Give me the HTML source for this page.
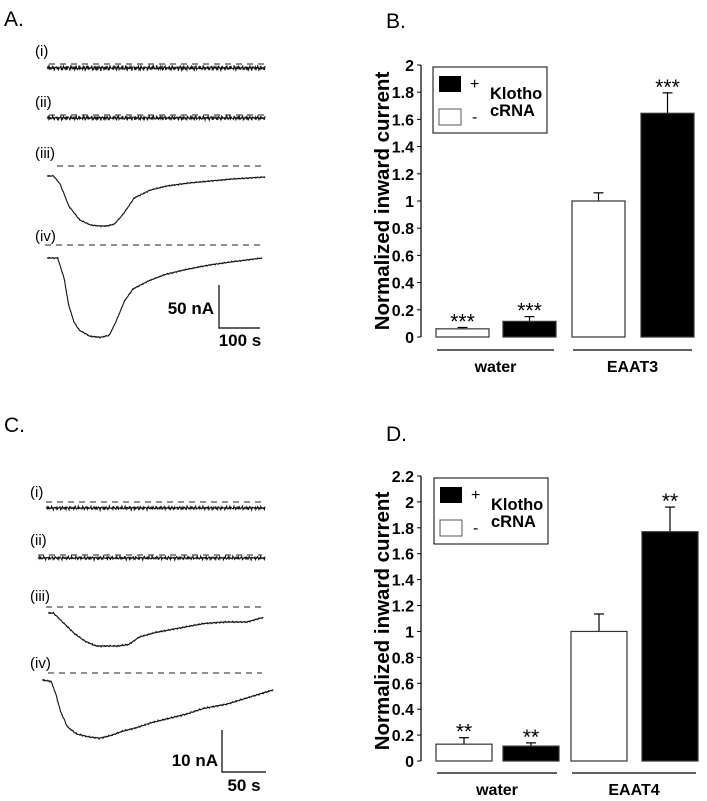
<!DOCTYPE html>
<html><head><meta charset="utf-8"><style>
body{margin:0;background:#fff;}
svg{display:block;font-family:"Liberation Sans",Arial,sans-serif;}
.b{font-weight:bold;}
</style></head><body>
<svg id="s" width="707" height="801" viewBox="0 0 707 801"></svg>
<script>
const NS="http://www.w3.org/2000/svg";
const svg=document.getElementById('s');
function el(tag,attrs,parent,txt){const e=document.createElementNS(NS,tag);for(const k in attrs)e.setAttribute(k,attrs[k]);if(txt!==undefined)e.textContent=txt;(parent||svg).appendChild(e);return e;}

// ---- Bar chart data ----
const categoriesB=["water","water","EAAT3","EAAT3"];
const klothoB=["-","+","-","+"];
const valuesB=[0.06,0.115,1.0,1.645];
const errorsB=[0.07,0.15,1.06,1.795];
const starsB=["***","***","","***"];
const ticksB=[0,0.2,0.4,0.6,0.8,1,1.2,1.4,1.6,1.8,2];

const categoriesD=["water","water","EAAT4","EAAT4"];
const klothoD=["-","+","-","+"];
const valuesD=[0.13,0.115,1.0,1.77];
const errorsD=[0.18,0.14,1.135,1.96];
const starsD=["**","**","","**"];
const ticksD=[0,0.2,0.4,0.6,0.8,1,1.2,1.4,1.6,1.8,2,2.2];

// ---- Trace data ----
const traceA3t=[0,6,12,20,30,40,48,55,62,70,80,95,110,130,150,170,200];
const traceA3v=[0,0,-8,-30,-44,-49,-50,-50,-48,-38,-22,-14,-10,-7,-5,-3,-1];
const traceA4t=[0,10,16,20,25,30,40,50,58,64,72,80,95,110,130,150,170,200];
const traceA4v=[0,0,-20,-45,-62,-70,-76,-77,-75,-62,-42,-30,-22,-16,-11,-7,-4,0];
const traceC3t=[0,5,15,25,35,45,55,65,75,85,100,115,130,145,165,185,200];
const traceC3v=[0,0,-7,-14,-19,-22,-22,-22,-21,-16,-13,-11,-9,-7,-6,-6,-3];
const traceC4t=[0,8,12,16,22,30,40,50,60,70,80,95,110,125,140,160,180,200];
const traceC4v=[0,-1,-10,-22,-33,-38,-40,-41,-39,-36,-34,-30,-27,-24,-20,-17,-12,-7];

function barChart(cfg){
  const g=el('g',{});
  const y=v=>cfg.y0-(v/cfg.ymax)*(cfg.y0-cfg.ytop);
  el('line',{x1:cfg.ax,y1:y(0),x2:cfg.ax,y2:y(cfg.ymax),stroke:'#000','stroke-width':1.2,},g);
  cfg.ticks.forEach(t=>{
    const tk=el('line',{x1:cfg.ax-4,y1:y(t),x2:cfg.ax,y2:y(t),stroke:'#000','stroke-width':1},g);
    
    
    const tl=el('text',{x:cfg.ax-7,y:y(t)+6,'text-anchor':'end','font-size':16,class:'b'},g,String(t));
    
    
  });
  const yt=el('text',{transform:`translate(389,${cfg.titleY}) rotate(-90)`,'text-anchor':'middle','font-size':20.5,class:'b'},g,'Normalized inward current');
  
  
  cfg.values.forEach((v,i)=>{
    const x=cfg.barX[i],w=cfg.barW;
    const black=cfg.klotho[i]==='+';
    const e=el('line',{x1:x+w/2,y1:y(v),x2:x+w/2,y2:y(cfg.errors[i]),stroke:'#000','stroke-width':1.2},g);
    
    
    const ec=el('line',{x1:x+w/2-5,y1:y(cfg.errors[i]),x2:x+w/2+5,y2:y(cfg.errors[i]),stroke:'#000','stroke-width':1.2},g);
    
    
    const r=el('rect',{x:x,y:y(v),width:w,height:y(0)-y(v),fill:black?'#000':'#fff',stroke:'#333','stroke-width':1.2},g);
    
    
    if(cfg.stars[i]){
      const s=el('text',{x:x+w/2,y:y(cfg.errors[i])+1,'text-anchor':'middle','font-size':21},g,cfg.stars[i]);
      
      
    }
  });
  [[0,1],[2,3]].forEach(([a,b])=>{
    const x1=cfg.barX[a]+1,x2=cfg.barX[b]+cfg.barW-2;
    el('line',{x1:x1,y1:cfg.gy,x2:x2,y2:cfg.gy,stroke:'#000','stroke-width':1.2,},g);
    const t=el('text',{x:(x1+x2)/2,y:cfg.gy+22,'text-anchor':'middle','font-size':16,class:'b'},g,cfg.cats[a]);
    
    
  });
  const L=el('g',{},g);
  el('rect',{x:cfg.lx,y:cfg.ly,width:114,height:66,fill:'#fff',stroke:'#000','stroke-width':1},L);
  el('rect',{x:cfg.lx+6,y:cfg.ly+9,width:22,height:16,fill:'#000',},L);
  el('rect',{x:cfg.lx+6,y:cfg.ly+42,width:22,height:16,fill:'#fff',stroke:'#555',},L);
  el('text',{x:cfg.lx+37,y:cfg.ly+22,'font-size':16},L,'+');
  el('text',{x:cfg.lx+39,y:cfg.ly+55,'font-size':16},L,'-');
  el('text',{x:cfg.lx+57,y:cfg.ly+32,'font-size':16.5,class:'b'},L,'Klotho');
  el('text',{x:cfg.lx+57,y:cfg.ly+49,'font-size':16.5,class:'b'},L,'cRNA');
}

barChart({name:'chart-b',ax:421,y0:337,ytop:65,ymax:2,ticks:ticksB,values:valuesB,errors:errorsB,stars:starsB,klotho:klothoB,cats:categoriesB,
  barX:[436,503,572,641],barW:53,gy:350,lx:433,ly:67,titleY:201});
barChart({name:'chart-d',ax:421,y0:761,ytop:476,ymax:2.2,ticks:ticksD,values:valuesD,errors:errorsD,stars:starsD,klotho:klothoD,cats:categoriesD,
  barX:[436,503,571,642],barW:56,gy:773,lx:434,ly:478,titleY:621});

function interp(ts,vs,t){for(let i=1;i<ts.length;i++){if(t<=ts[i]){const f=(t-ts[i-1])/(ts[i]-ts[i-1]);return vs[i-1]+f*(vs[i]-vs[i-1]);}}return vs[vs.length-1];}
function trace(name,ts,vs,x0,x1,yBase,yScale,noise){
  let pts=[];const n=360;
  for(let k=0;k<=n;k++){const t=ts[0]+(ts[ts.length-1]-ts[0])*k/n;
    const nz=noise*(Math.sin(k*2.7)*0.5+Math.sin(k*5.3+1)*0.35+Math.sin(k*11.1)*0.3);
    pts.push((x0+(x1-x0)*k/n).toFixed(1)+','+(yBase-interp(ts,vs,t)*yScale+nz).toFixed(1));}
  const p=el('polyline',{points:pts.join(' '),fill:'none',stroke:'#111','stroke-width':1.1});
  
  
}
function flat(name,x0,x1,y,noise){trace(name,[0,1],[0,0],x0,x1,y,1,noise);}
function dash(x0,x1,y){el('line',{x1:x0,y1:y,x2:x1,y2:y,stroke:'#222','stroke-width':1,'stroke-dasharray':'6,5',});}
function lab(t,x,y,name){const e=el('text',{x:x,y:y,'font-size':15},svg,t);}

// Panel A
dash(49,265,64);flat('trace-a-i',47,265,68,2.6);lab('(i)',35,56,'label-i');
dash(49,265,115);flat('trace-a-ii',47,265,118,2.2);lab('(ii)',35,107,'label-ii');
dash(57,265,166);trace('trace-a-iii',traceA3t,traceA3v,47,265,176,1.0,0.6);lab('(iii)',35,158,'label-iii');
dash(45,262,245);trace('trace-a-iv',traceA4t,traceA4v,47,262,258,1.03,0.6);lab('(iv)',35,241,'label-iv');
el('path',{d:'M219 285 V328 H260',fill:'none',stroke:'#000','stroke-width':1.2,});
el('text',{x:214,y:314,'text-anchor':'end','font-size':17,class:'b',},svg,'50 nA');
el('text',{x:240,y:346,'text-anchor':'middle','font-size':17,class:'b',},svg,'100 s');

// Panel C
dash(46,262,502);flat('trace-c-i',46,265,508,1.8);lab('(i)',30,497,'label-c-i');
dash(38,262,555);flat('trace-c-ii',38,265,558,1.8);lab('(ii)',30,545,'label-c-ii');
dash(46,262,607);trace('trace-c-iii',traceC3t,traceC3v,48,263,613,1.5,0.7);lab('(iii)',30,601,'label-c-iii');
dash(48,262,673);trace('trace-c-iv',traceC4t,traceC4v,42,273,680,1.42,0.8);lab('(iv)',30,668,'label-c-iv');
el('path',{d:'M222 730 V772 H266',fill:'none',stroke:'#000','stroke-width':1.2,});
el('text',{x:218,y:766,'text-anchor':'end','font-size':17,class:'b',},svg,'10 nA');
el('text',{x:244,y:791,'text-anchor':'middle','font-size':17,class:'b',},svg,'50 s');

[['A.',4,26],['B.',386,28],['C.',4,432],['D.',386,441]].forEach(([t,x,y])=>{
  const e=el('text',{x:x,y:y,'font-size':21},svg,t);
  
  
});
</script>
</body></html>
